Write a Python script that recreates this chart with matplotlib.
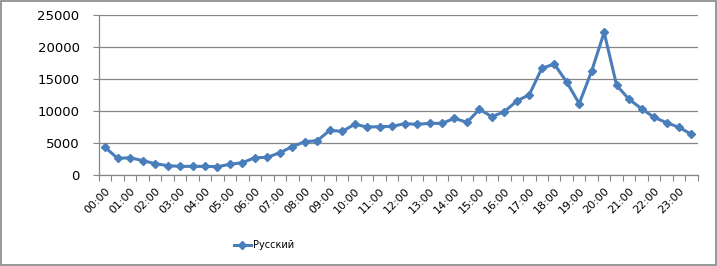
import matplotlib
matplotlib.use("Agg")
import matplotlib.pyplot as plt
from matplotlib.patches import Rectangle

categories = ["00:00","00:30","01:00","01:30","02:00","02:30","03:00","03:30",
              "04:00","04:30","05:00","05:30","06:00","06:30","07:00","07:30",
              "08:00","08:30","09:00","09:30","10:00","10:30","11:00","11:30",
              "12:00","12:30","13:00","13:30","14:00","14:30","15:00","15:30",
              "16:00","16:30","17:00","17:30","18:00","18:30","19:00","19:30",
              "20:00","20:30","21:00","21:30","22:00","22:30","23:00","23:30"]
values = [4300, 2600, 2700, 2250, 1770, 1460, 1350, 1350,
          1350, 1300, 1670, 1930, 2700, 2760, 3490, 4430,
          5200, 5360, 6980, 6820, 7920, 7500, 7550, 7600,
          8020, 7920, 8070, 8070, 8850, 8230, 10260, 9110,
          9900, 11560, 12550, 16670, 17340, 14530, 11150, 16250,
          22290, 14010, 11820, 10360, 9010, 8180, 7450, 6350]
series_name = "Русский"
yticks = [0, 5000, 10000, 15000, 20000, 25000]

plt.rcParams['font.family'] = ['DejaVu Sans']
fig = plt.figure(figsize=(7.17, 2.66), dpi=100)
ax = fig.add_axes([99/717, 1-175/266, (697.7-99)/717, 160/266])

x = list(range(len(values)))
line, = ax.plot(x, values, color='#4A7EBB', linewidth=2.2, marker='D',
                markersize=4.5, markerfacecolor='#4A7EBB', markeredgecolor='#4A7EBB',
                label=series_name, zorder=3)

ax.set_xlim(-0.5, len(values) - 0.5)
ax.set_ylim(0, 25000)
ax.set_yticks(yticks)
ax.set_yticklabels([str(v) for v in yticks], fontsize=9.5)
ax.grid(axis='y', color='#868686', linewidth=0.9)
ax.set_axisbelow(True)

# category boundary ticks
ax.set_xticks([i - 0.5 for i in range(len(values) + 1)])
ax.set_xticklabels([])
ax.tick_params(axis='x', which='major', length=4, color='#868686', direction='out')
ax.set_xticks(x[::2], minor=True)
ax.set_xticklabels(categories[::2], minor=True, rotation=45, ha='right',
                   rotation_mode='anchor', fontsize=8)
ax.tick_params(axis='x', which='minor', length=0, pad=8)
ax.tick_params(axis='y', length=4, color='#868686', pad=10)

for s in ['top', 'right']:
    ax.spines[s].set_visible(False)
for s in ['left', 'bottom']:
    ax.spines[s].set_color('#868686')
    ax.spines[s].set_linewidth(0.9)

fig.legend(handles=[line], loc='center', bbox_to_anchor=(264/717, 1-245/266),
           frameon=False, fontsize=7, handlelength=1.8, handletextpad=0.2)

fig.patches.append(Rectangle((0.001, 0.002), 0.997, 0.995, transform=fig.transFigure,
                             fill=False, edgecolor='#868686', linewidth=1.2))

fig.savefig("out.png", dpi=100)
